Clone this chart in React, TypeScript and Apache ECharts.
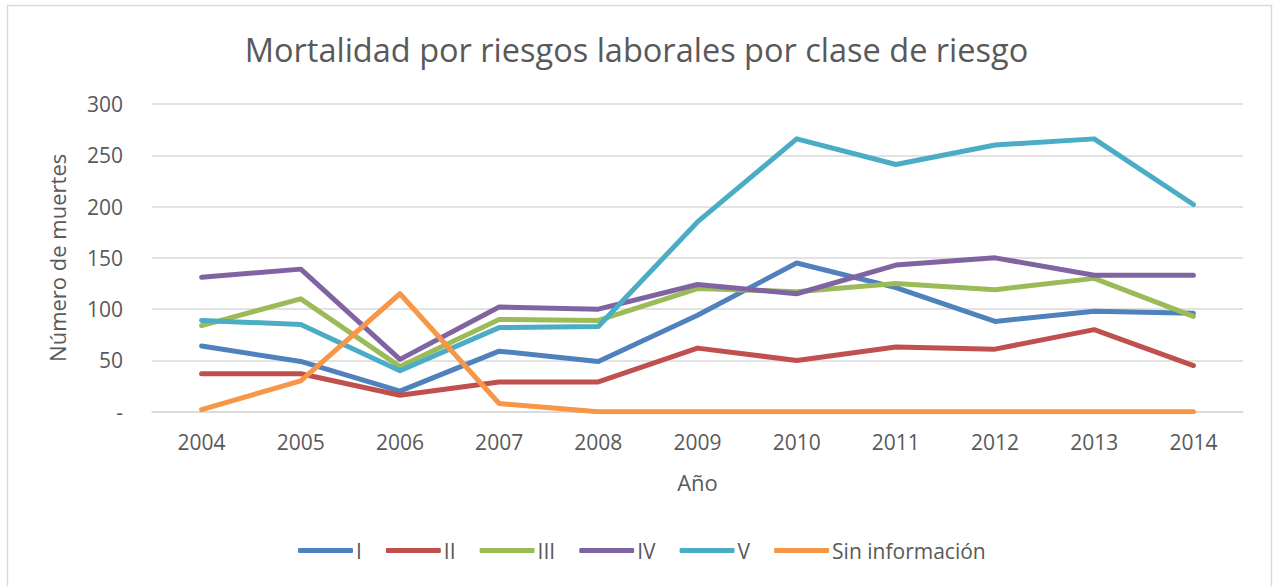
import React, { useEffect, useRef } from "react";
import * as echarts from "echarts";

const years = ["2004", "2005", "2006", "2007", "2008", "2009", "2010", "2011", "2012", "2013", "2014"];
const seriesNames = ["I", "II", "III", "IV", "V", "Sin información"];
const claseI = [64, 49, 20, 59, 49, 94, 145, 121, 88, 98, 96];
const claseII = [37, 37, 16, 29, 29, 62, 50, 63, 61, 80, 45];
const claseIII = [84, 110, 44, 90, 89, 120, 117, 125, 119, 130, 93];
const claseIV = [131, 139, 51, 102, 100, 124, 115, 143, 150, 133, 133];
const claseV = [89, 85, 40, 82, 83, 185, 266, 241, 260, 266, 202];
const sinInfo = [2, 30, 115, 8, 0, 0, 0, 0, 0, 0, 0];
const colors = ["#4F81BD", "#C0504D", "#9BBB59", "#8064A2", "#4BACC6", "#F79646"];
const titleText = "Mortalidad por riesgos laborales por clase de riesgo";
const yAxisName = "Número de muertes";
const xAxisName = "Año";

export default function App() {
  const ref = useRef<HTMLDivElement>(null);
  useEffect(() => {
    document.body.style.margin = "0";
    const chart = echarts.init(ref.current!, null, { renderer: "svg" });
    const values = [claseI, claseII, claseIII, claseIV, claseV, sinInfo];
    const font = "'Open Sans', 'Noto Sans', sans-serif";
    const textColor = "#595959";
    chart.setOption({
      animation: false,
      textStyle: { fontFamily: font },
      color: colors,
      title: {
        text: titleText,
        left: "center",
        top: 29,
        padding: 0,
        textStyle: { fontFamily: font, fontSize: 32.5, fontWeight: "normal", color: textColor, lineHeight: 40 },
      },
      graphic: [
        {
          type: "rect",
          shape: { x: 7.5, y: 5.5, width: 1264, height: 600 },
          style: { fill: "none", stroke: "#D9D9D9", lineWidth: 1.5 },
          silent: true,
        },
      ],
      legend: {
        bottom: 20,
        left: 293,
        icon: "roundRect",
        itemWidth: 55,
        itemHeight: 5,
        itemGap: 24,
        textStyle: { fontFamily: font, fontSize: 21, color: textColor, padding: [0, 0, 0, -2] },
        data: seriesNames,
      },
      grid: { left: 152, right: 30, top: 104, bottom: 586 - 411.7, containLabel: false },
      xAxis: {
        type: "category",
        data: years,
        boundaryGap: true,
        name: xAxisName,
        nameLocation: "middle",
        nameGap: 59,
        nameTextStyle: { fontFamily: font, fontSize: 22, color: textColor },
        axisLine: { lineStyle: { color: "#D9D9D9", width: 1.5 } },
        axisTick: { show: false },
        axisLabel: { fontFamily: font, fontSize: 21, color: textColor, margin: 20 },
      },
      yAxis: {
        type: "value",
        min: 0,
        max: 300,
        interval: 50,
        name: yAxisName,
        nameLocation: "middle",
        nameGap: 84,
        nameTextStyle: { fontFamily: font, fontSize: 22, color: textColor },
        axisLine: { show: false },
        axisTick: { show: false },
        axisLabel: {
          fontFamily: font,
          fontSize: 21,
          color: textColor,
          margin: 29,
          formatter: (v: number) => (v === 0 ? "-" : String(v)),
        },
        splitLine: { lineStyle: { color: "#D9D9D9", width: 1.5 } },
      },
      series: seriesNames.map((name, i) => ({
        name,
        type: "line",
        data: values[i],
        symbol: "none",
        lineStyle: { width: 5, color: colors[i], cap: "round", join: "round" },
        itemStyle: { color: colors[i] },
      })),
    });
    return () => chart.dispose();
  }, []);
  return <div ref={ref} style={{ width: 1273, height: 586, position: "absolute", left: 0, top: 0, background: "#fff" }} />;
}
